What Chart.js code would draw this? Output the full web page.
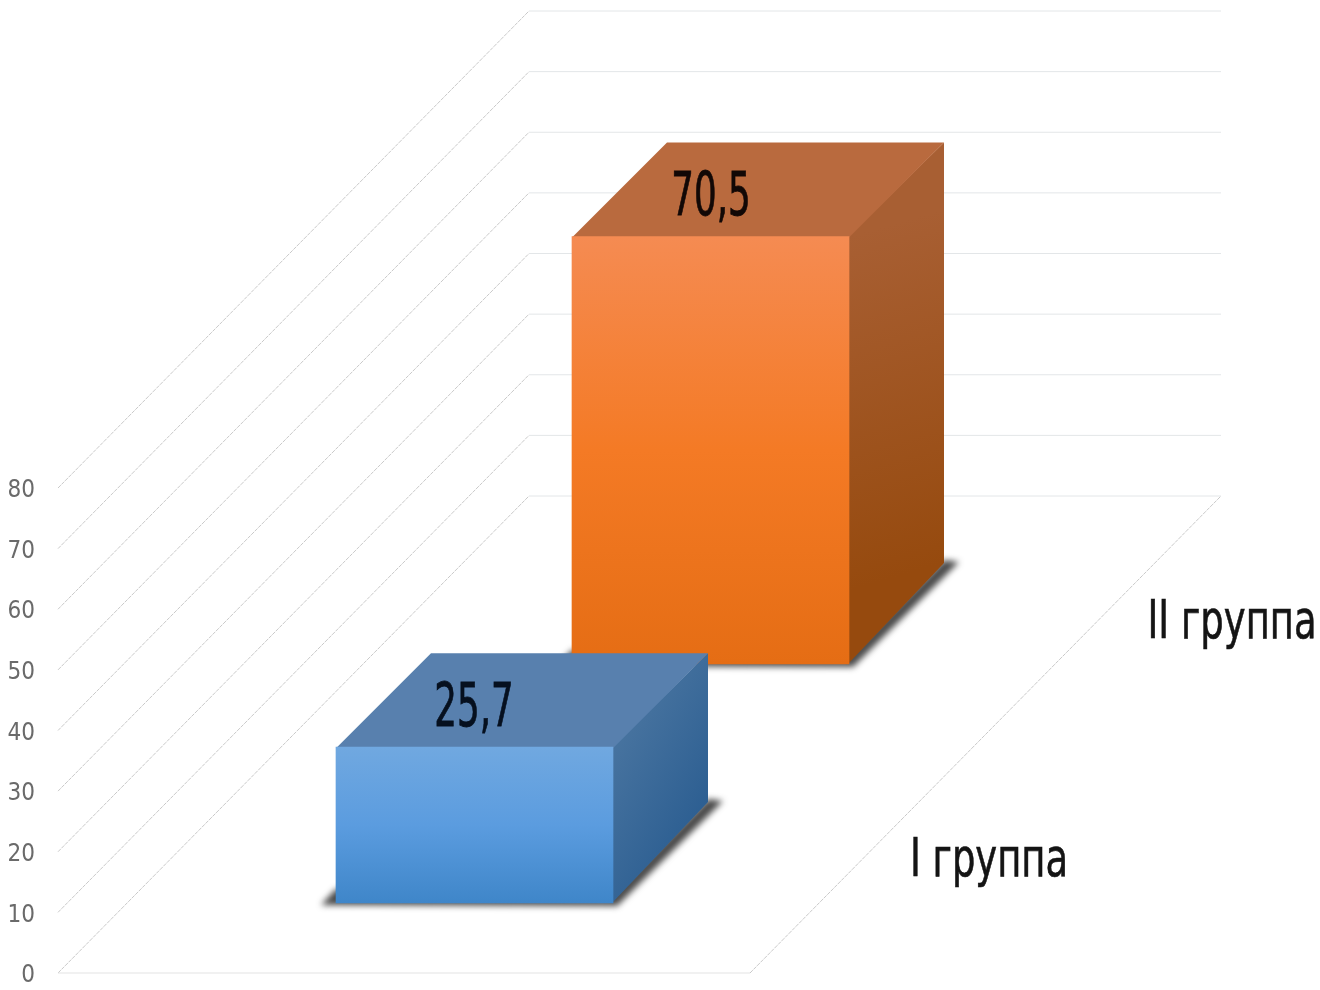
<!DOCTYPE html>
<html><head><meta charset="utf-8">
<script src="https://cdn.jsdelivr.net/npm/chart.js@4"></script>
<style>html,body{margin:0;padding:0;background:#fff}canvas{display:block;filter:blur(0.5px)}</style>
</head><body><canvas id="c" width="1320" height="990"></canvas>
<script>
const groups = ['I группа', 'II группа'];
const values = [25.7, 70.5];
const valueLabels = ['25,7', '70,5'];
const yTicks = [0, 10, 20, 30, 40, 50, 60, 70, 80];

const wall = {dx: 471, dy: -477};
const box = {dx: 95, dyTop: 94, dyBottom: 101};
const rows = [{x: 70.5, y: 70}, {x: 306.5, y: 309}];
const looks = [
  {front: ['#70a8e0', '#5b9cdf', '#3f86c9'], top: '#5880ae', side: ['#47739f', '#2d5f92'], text: '#06101f'},
  {front: ['#f58b52', '#f47a25', '#e56d14'], top: '#b96a3e', side: ['#a85f33', '#964a0e'], text: '#120806'}
];
const groupPos = [{x: 989, y: 862}, {x: 1232, y: 624}];
const valuePos = [{x: 474, y: 710}, {x: 711, y: 199}];

function vGrad(ctx, y0, y1, cols) {
  const g = ctx.createLinearGradient(0, y0, 0, y1);
  cols.forEach((c, i) => g.addColorStop(i / (cols.length - 1), c));
  return g;
}
function poly(ctx, pts) {
  ctx.beginPath();
  pts.forEach((p, i) => i ? ctx.lineTo(p[0], p[1]) : ctx.moveTo(p[0], p[1]));
  ctx.closePath();
}

const scene = {
  id: 'scene',
  beforeDatasetsDraw(chart) {
    const {ctx, chartArea: a, scales: {y}} = chart;
    ctx.save();
    ctx.lineWidth = 1;
    yTicks.forEach(t => {
      const p = y.getPixelForValue(t);
      ctx.strokeStyle = '#c9c9c9';
      ctx.setLineDash([4, 1]);
      ctx.beginPath(); ctx.moveTo(a.left, p); ctx.lineTo(a.left + wall.dx, p + wall.dy); ctx.stroke();
      ctx.setLineDash([]);
      ctx.strokeStyle = '#e3e6e8';
      ctx.beginPath(); ctx.moveTo(a.left + wall.dx, p + wall.dy); ctx.lineTo(a.right + wall.dx, p + wall.dy); ctx.stroke();
    });
    const b = y.getPixelForValue(0);
    ctx.strokeStyle = '#e3e3e3';
    ctx.beginPath(); ctx.moveTo(a.left, b); ctx.lineTo(a.right, b); ctx.stroke();
    ctx.strokeStyle = '#c9c9c9';
    ctx.setLineDash([4, 1]);
    ctx.beginPath(); ctx.moveTo(a.right, b); ctx.lineTo(a.right + wall.dx, b + wall.dy); ctx.stroke();
    ctx.restore();
  },
  beforeDatasetDraw(chart, args) {
    const i = args.index, {ctx} = chart;
    const el = chart.getDatasetMeta(i).data[0], r = rows[i], L = looks[i];
    const w = el.width, x0 = el.x - w / 2 + r.x, x1 = x0 + w;
    const top = el.y - r.y, bot = el.base - r.y;
    ctx.save();
    ctx.filter = 'blur(3px)';
    ctx.fillStyle = 'rgba(40,40,40,0.85)';
    poly(ctx, [[x0 - 15, bot + 2], [x1 + 4, bot + 3], [x1 + box.dx + 15, bot - box.dyBottom - 1],
               [x1 + box.dx, bot - box.dyBottom - 3], [x1 - 5, bot - 5], [x0, bot - 14]]);
    ctx.fill();
    ctx.filter = 'none';
    const sg = ctx.createLinearGradient(x1, top, x1 + box.dx, bot - box.dyBottom);
    sg.addColorStop(0, L.side[0]); sg.addColorStop(1, L.side[1]);
    ctx.fillStyle = sg;
    poly(ctx, [[x1 - 1, top], [x1 + box.dx, top - box.dyTop], [x1 + box.dx, bot - box.dyBottom], [x1 - 1, bot]]);
    ctx.fill();
    ctx.fillStyle = L.top;
    poly(ctx, [[x0, top + 1], [x0 + box.dx, top - box.dyTop], [x1 + box.dx, top - box.dyTop], [x1, top + 1]]);
    ctx.fill();
    ctx.restore();
    ctx.save();
    ctx.translate(r.x, -r.y);
  },
  afterDatasetDraw(chart, args) {
    const {ctx} = chart, i = args.index;
    ctx.restore();
    ctx.save();
    ctx.fillStyle = looks[i].text;
    ctx.strokeStyle = looks[i].text;
    ctx.lineWidth = 0.8;
    ctx.font = '60px "DejaVu Sans Condensed", "DejaVu Sans"';
    ctx.textAlign = 'center'; ctx.textBaseline = 'middle';
    ctx.translate(valuePos[i].x, valuePos[i].y);
    ctx.scale(0.66, 1);
    ctx.fillText(valueLabels[i], 0, 0);
    ctx.strokeText(valueLabels[i], 0, 0);
    ctx.restore();
  },
  afterDatasetsDraw(chart) {
    const {ctx} = chart;
    ctx.save();
    ctx.fillStyle = '#141414';
    ctx.strokeStyle = '#141414';
    ctx.lineWidth = 0.6;
    ctx.font = '54px "DejaVu Sans Condensed", "DejaVu Sans"';
    ctx.textAlign = 'center'; ctx.textBaseline = 'middle';
    groups.forEach((g, i) => {
      ctx.save();
      ctx.translate(groupPos[i].x, groupPos[i].y);
      ctx.scale(0.76, 1);
      ctx.fillText(g, 0, 0);
      ctx.strokeText(g, 0, 0);
      ctx.restore();
    });
    ctx.restore();
  }
};

function frontFill(i) {
  return c => {
    const y = c.chart.scales && c.chart.scales.y;
    if (!c.chart.chartArea || !y) return looks[i].front[1];
    return vGrad(c.chart.ctx, y.getPixelForValue(values[i]), y.getPixelForValue(0), looks[i].front);
  };
}

new Chart(document.getElementById('c'), {
  type: 'bar',
  data: {
    labels: [''],
    datasets: groups.map((g, i) => ({
      label: g, data: [values[i]], backgroundColor: frontFill(i),
      grouped: false, barThickness: 277, clip: false, borderWidth: 0
    }))
  },
  options: {
    responsive: false, animation: false,
    devicePixelRatio: 1,
    layout: {padding: {top: 488, bottom: 17, right: 570, left: 0}},
    plugins: {legend: {display: false}, title: {display: false}, tooltip: {enabled: false}},
    scales: {
      x: {display: false, offset: true, grid: {display: false}},
      y: {
        min: 0, max: 80,
        afterBuildTicks: s => { s.ticks = yTicks.map(v => ({value: v})); },
        afterFit: s => { s.width = 58; s.paddingTop = 0; s.paddingBottom = 0; },
        border: {display: false},
        grid: {display: false, drawTicks: false},
        ticks: {padding: 23, labelOffset: 3, color: '#6a6a6a', font: {family: '"DejaVu Sans Condensed", "DejaVu Sans"', size: 24}}
      }
    }
  },
  plugins: [scene]
});
</script></body></html>
